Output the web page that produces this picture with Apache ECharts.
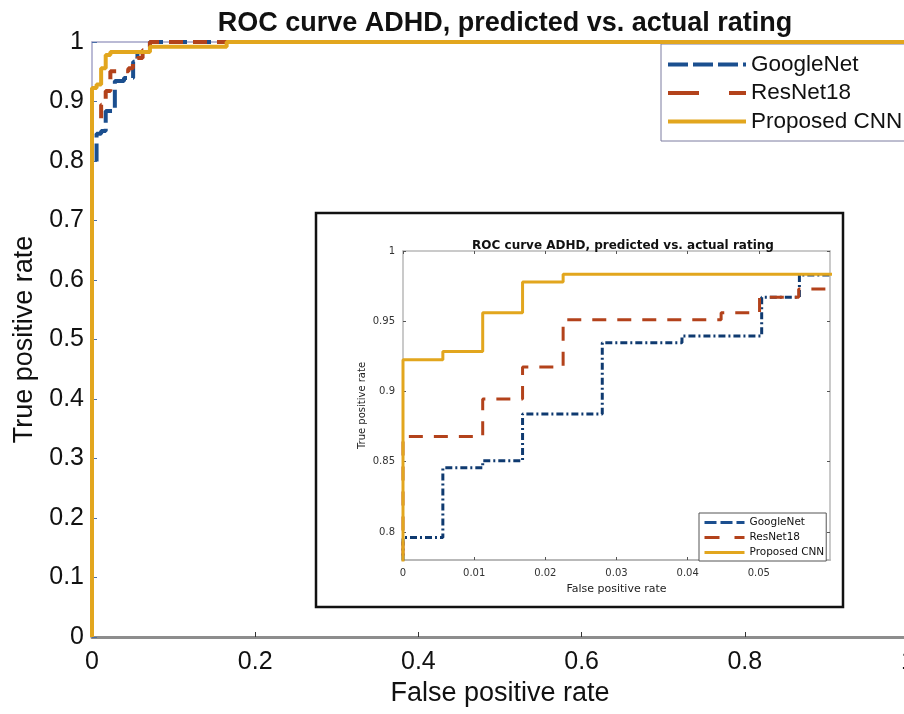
<!DOCTYPE html>
<html>
<head>
<meta charset="utf-8">
<script src="https://cdn.jsdelivr.net/npm/echarts@6/dist/echarts.min.js"></script>
<style>html,body{margin:0;padding:0;background:#fff;}#c{width:904px;height:714px;}</style>
</head>
<body>
<div id="c"></div>
<script>
// ---- data ----
const titleText = 'ROC curve ADHD, predicted vs. actual rating';
const seriesNames = ['GoogleNet', 'ResNet18', 'Proposed CNN'];

const googleFpr = [0, 0, 0.0056, 0.0056, 0.0112, 0.0112, 0.0168, 0.0168, 0.028, 0.028, 0.0392, 0.0392, 0.0504, 0.0504, 0.0557, 0.0557, 0.071, 0.071, 1];
const googleTpr = [0, 0.796, 0.796, 0.8456, 0.8456, 0.8506, 0.8506, 0.884, 0.884, 0.9346, 0.9346, 0.9395, 0.9395, 0.967, 0.967, 0.983, 0.983, 1, 1];

const resnetFpr = [0, 0, 0.0112, 0.0112, 0.0168, 0.0168, 0.0225, 0.0225, 0.0447, 0.0447, 0.0501, 0.0501, 0.0556, 0.0556, 0.062, 0.062, 0.071, 0.071, 1];
const resnetTpr = [0, 0.868, 0.868, 0.8947, 0.8947, 0.9175, 0.9175, 0.951, 0.951, 0.956, 0.956, 0.967, 0.967, 0.973, 0.973, 0.986, 0.986, 1, 1];

const cnnFpr = [0, 0, 0.0056, 0.0056, 0.0112, 0.0112, 0.0168, 0.0168, 0.0225, 0.0225, 0.071, 0.071, 0.165, 0.165, 1];
const cnnTpr = [0, 0.9225, 0.9225, 0.9284, 0.9284, 0.956, 0.956, 0.978, 0.978, 0.9834, 0.9834, 0.992, 0.992, 1, 1];

const mainXTicks = [0, 0.2, 0.4, 0.6, 0.8, 1];
const mainYTicks = [0, 0.1, 0.2, 0.3, 0.4, 0.5, 0.6, 0.7, 0.8, 0.9, 1];
const insetXTicks = [0, 0.01, 0.02, 0.03, 0.04, 0.05];
const insetYTicks = [0.8, 0.85, 0.9, 0.95, 1];

// ---- build ----
const pairs = (xs, ys) => xs.map((x, i) => [x, ys[i]]);
const googleData = pairs(googleFpr, googleTpr);
const resnetData = pairs(resnetFpr, resnetTpr);
const cnnData = pairs(cnnFpr, cnnTpr);

const FONT = '"Liberation Sans", Arial, Helvetica, sans-serif';
const FONT_IN = '"DejaVu Sans", "Liberation Sans", sans-serif';
const C_BLUE = '#1b4f8f';
const C_BLUE_IN = '#0f3a70';
const C_RED = '#b3421b';
const C_GOLD = '#e2a61e';

const chart = echarts.init(document.getElementById('c'), null, {renderer: 'canvas'});

const option = {
  backgroundColor: '#ffffff',
  animation: false,
  textStyle: {fontFamily: FONT},
  title: [
    {
      text: titleText, left: 500, top: 5, textAlign: 'center',
      textStyle: {fontFamily: FONT, fontSize: 27, fontWeight: 'bold', color: '#111'}
    },
    {
      text: titleText, left: 618, top: 235, textAlign: 'center',
      textStyle: {fontFamily: FONT_IN, fontSize: 12, fontWeight: 'bold', color: '#111'}
    }
  ],
  graphic: [
    {
      type: 'rect', z: 1,
      shape: {x: 316, y: 213, width: 527, height: 394},
      style: {fill: 'rgba(0,0,0,0)', stroke: '#111', lineWidth: 2.5}
    }
  ],
  legend: [
    {
      data: [
        {name: seriesNames[0], lineStyle: {type: [20, 5]}},
        {name: seriesNames[1], lineStyle: {type: [31, 30]}},
        {name: seriesNames[2]}
      ],
      orient: 'vertical', left: 661, top: 44,
      itemWidth: 78, itemHeight: 14, itemGap: 5.5,
      padding: [9, 4, 8, 5],
      borderColor: '#7c7ca0', borderWidth: 1, backgroundColor: '#fff',
      lineStyle: {width: 4},
      itemStyle: {opacity: 0},
      textStyle: {fontFamily: FONT, fontSize: 22.5, color: '#111', lineHeight: 22},
      selectedMode: false
    },
    {
      data: [
        {name: seriesNames[0], lineStyle: {type: [12, 4]}},
        {name: seriesNames[1], lineStyle: {type: [15, 15]}},
        {name: seriesNames[2]}
      ],
      orient: 'vertical', left: 699, top: 513,
      itemWidth: 40, itemHeight: 8, itemGap: 4,
      padding: [4, 2, 3, 4],
      borderColor: '#555', borderWidth: 1, backgroundColor: '#fff',
      lineStyle: {width: 3},
      itemStyle: {opacity: 0},
      textStyle: {fontFamily: FONT_IN, fontSize: 10.5, color: '#111', lineHeight: 10},
      selectedMode: false
    }
  ],
  grid: [
    {left: 92, top: 42, width: 816, height: 595, outerBoundsMode: 'none', containLabel: false},
    {left: 403, top: 251, width: 427, height: 309, outerBoundsMode: 'none', containLabel: false}
  ],
  xAxis: [
    {
      type: 'value', gridIndex: 0, min: 0, max: 1, interval: 0.2,
      name: 'False positive rate', nameLocation: 'middle', nameGap: 41,
      nameTextStyle: {fontFamily: FONT, fontSize: 27, color: '#111'},
      axisLine: {show: true, onZero: false, lineStyle: {color: '#8d8d8d', width: 3}},
      axisTick: {show: true, inside: true, length: 5, lineStyle: {color: '#333', width: 1}},
      axisLabel: {fontFamily: FONT, fontSize: 25, color: '#111', margin: 13,
        customValues: mainXTicks, formatter: v => String(v)},
      splitLine: {show: false}
    },
    {
      type: 'value', gridIndex: 0, min: 0, max: 1, position: 'top',
      axisLine: {show: true, onZero: false, lineStyle: {color: '#a4a4c8', width: 1.5}},
      axisTick: {show: false}, axisLabel: {show: false}, splitLine: {show: false}
    },
    {
      type: 'value', gridIndex: 1, min: 0, max: 0.06, interval: 0.01,
      name: 'False positive rate', nameLocation: 'middle', nameGap: 24,
      nameTextStyle: {fontFamily: FONT_IN, fontSize: 11, color: '#222'},
      axisLine: {show: true, onZero: false, lineStyle: {color: '#b9b9b9', width: 2}},
      axisTick: {show: true, inside: true, length: 3, lineStyle: {color: '#555'},
        customValues: insetXTicks},
      axisLabel: {fontFamily: FONT_IN, fontSize: 10, color: '#333', margin: 8,
        customValues: insetXTicks, formatter: v => String(v)},
      splitLine: {show: false}
    },
    {
      type: 'value', gridIndex: 1, min: 0, max: 0.06, position: 'top',
      axisLine: {show: true, onZero: false, lineStyle: {color: '#b9b9b9', width: 1.5}},
      axisTick: {show: true, inside: true, length: 3, lineStyle: {color: '#555'},
        customValues: insetXTicks},
      axisLabel: {show: false}, splitLine: {show: false}
    }
  ],
  yAxis: [
    {
      type: 'value', gridIndex: 0, min: 0, max: 1, interval: 0.1,
      name: 'True positive rate', nameLocation: 'middle', nameGap: 53, nameRotate: 90,
      nameTextStyle: {fontFamily: FONT, fontSize: 27, color: '#111'},
      axisLine: {show: true, onZero: false, lineStyle: {color: '#a4a4c8', width: 1.5}},
      axisTick: {show: true, inside: true, length: 5, lineStyle: {color: '#4a6fa8', width: 1}},
      axisLabel: {fontFamily: FONT, fontSize: 25, color: '#111', margin: 8,
        customValues: mainYTicks, formatter: v => String(v)},
      splitLine: {show: false}
    },
    {
      type: 'value', gridIndex: 1, min: 0.78, max: 1,
      name: 'True positive rate', nameLocation: 'middle', nameGap: 36, nameRotate: 90,
      nameTextStyle: {fontFamily: FONT_IN, fontSize: 10, color: '#222'},
      axisLine: {show: true, onZero: false, lineStyle: {color: '#b9b9b9', width: 1.5}},
      axisTick: {show: true, inside: true, length: 3, lineStyle: {color: '#555'},
        customValues: insetYTicks},
      axisLabel: {fontFamily: FONT_IN, fontSize: 10, color: '#333', margin: 8,
        customValues: insetYTicks, formatter: v => String(v)},
      splitLine: {show: false}
    },
    {
      type: 'value', gridIndex: 1, min: 0.78, max: 1, position: 'right',
      axisLine: {show: true, onZero: false, lineStyle: {color: '#b9b9b9', width: 1.5}},
      axisTick: {show: true, inside: true, length: 3, lineStyle: {color: '#555'},
        customValues: insetYTicks},
      axisLabel: {show: false}, splitLine: {show: false}
    }
  ],
  series: [
    {
      name: 'GoogleNet', type: 'line', xAxisIndex: 0, yAxisIndex: 0, data: googleData,
      symbol: 'none', z: 3, color: C_BLUE,
      lineStyle: {color: C_BLUE, width: 4, type: [18, 6]}
    },
    {
      name: 'ResNet18', type: 'line', xAxisIndex: 0, yAxisIndex: 0, data: resnetData,
      symbol: 'none', z: 4, color: C_RED,
      lineStyle: {color: C_RED, width: 4, type: [14, 10]}
    },
    {
      name: 'Proposed CNN', type: 'line', xAxisIndex: 0, yAxisIndex: 0, data: cnnData,
      symbol: 'none', z: 5, color: C_GOLD,
      lineStyle: {color: C_GOLD, width: 4}
    },
    {
      name: 'GoogleNet', type: 'line', xAxisIndex: 2, yAxisIndex: 1, data: googleData,
      symbol: 'none', z: 3, color: C_BLUE_IN,
      lineStyle: {color: C_BLUE_IN, width: 3, type: [7, 3, 2, 3]}
    },
    {
      name: 'ResNet18', type: 'line', xAxisIndex: 2, yAxisIndex: 1, data: resnetData,
      symbol: 'none', z: 4, color: C_RED,
      lineStyle: {color: C_RED, width: 3, type: [14, 11]}
    },
    {
      name: 'Proposed CNN', type: 'line', xAxisIndex: 2, yAxisIndex: 1, data: cnnData,
      symbol: 'none', z: 5, color: C_GOLD,
      lineStyle: {color: C_GOLD, width: 3}
    }
  ]
};
chart.setOption(option);
</script>
</body>
</html>
